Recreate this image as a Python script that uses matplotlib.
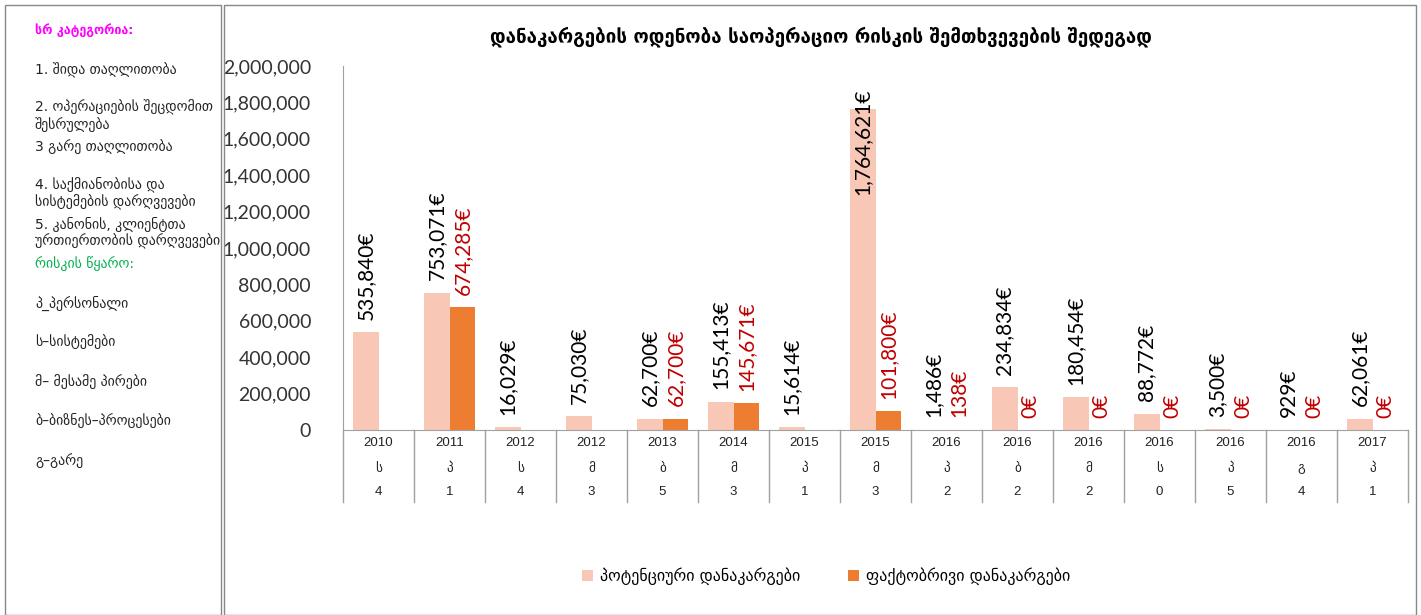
import matplotlib
matplotlib.use("Agg")
import matplotlib.pyplot as plt
from matplotlib.patches import Rectangle, Patch

# data
years = [2010, 2011, 2012, 2012, 2013, 2014, 2015, 2015, 2016, 2016, 2016, 2016, 2016, 2016, 2017]
sources = ["ს", "პ", "ს", "მ", "ბ", "მ", "პ", "მ", "პ", "ბ", "მ", "ს", "პ", "გ", "პ"]
cat_nums = [4, 1, 4, 3, 5, 3, 1, 3, 2, 2, 2, 0, 5, 4, 1]
potential = [535840, 753071, 16029, 75030, 62700, 155413, 15614, 1764621,
             1486, 234834, 180454, 88772, 3500, 929, 62061]
actual = [None, 674285, None, None, 62700, 145671, None, 101800,
          138, 0, 0, 0, 0, 0, 0]

title = "დანაკარგების ოდენობა საოპერაციო რისკის შემთხვევების შედეგად"
series_names = ["პოტენციური დანაკარგები", "ფაქტობრივი დანაკარგები"]
side_head1 = "სრ კატეგორია:"
side_cats = ["1. შიდა თაღლითობა", "2. ოპერაციების შეცდომით\nშესრულება", "3 გარე თაღლითობა",
             "4. საქმიანობისა და\nსისტემების დარღვევები", "5. კანონის, კლიენტთა\nურთიერთობის დარღვევები"]
side_head2 = "რისკის წყარო:"
side_src = ["პ_პერსონალი", "ს–სისტემები", "მ– მესამე პირები", "ბ–ბიზნეს–პროცესები", "გ–გარე"]

c_pot = "#F9C7B6"
c_act = "#ED7D31"
c_red = "#C00000"
grey = "#A0A0A0"
num_font = ["Lato", "DejaVu Sans"]
geo_font = ["DejaVu Sans"]

W, H = 1421, 615
fig = plt.figure(figsize=(W / 100, H / 100), dpi=100)

def fx(px):
    return px / W

def fy(py):
    return 1 - py / H

# frames
fig.patches.append(Rectangle((fx(5), fy(615)), fx(216), fy(5) - fy(615), transform=fig.transFigure,
                             fill=False, edgecolor="#888888", lw=1))
fig.patches.append(Rectangle((fx(224), fy(615)), fx(1192), fy(5) - fy(615), transform=fig.transFigure,
                             fill=False, edgecolor="#888888", lw=1))

ax_l, ax_r, ax_t, ax_b = 343, 1408, 66, 430
ax = fig.add_axes([fx(ax_l), fy(ax_b), fx(ax_r - ax_l), fy(ax_t) - fy(ax_b)])

n = len(years)
bw = 0.366
ymax = 2000000
xs = list(range(n))
ax.bar([x - bw / 2 for x in xs], potential, width=bw, color=c_pot)
act_x = [x + bw / 2 for x, a in zip(xs, actual) if a is not None]
act_v = [a for a in actual if a is not None]
ax.bar(act_x, act_v, width=bw, color=c_act)

def label(x, v, col):
    if v > 0.8 * ymax:
        # no room above: put it inside the top of the bar like Excel does
        ax.annotate(f"{v:,}€", (x, v), xytext=(0, 15), textcoords="offset points",
                    rotation=90, ha="center", va="top", fontsize=15, family=num_font, color=col)
    else:
        ax.annotate(f"{v:,}€", (x, v), xytext=(0, 9), textcoords="offset points",
                    rotation=90, ha="center", va="bottom", fontsize=15, family=num_font, color=col)

for x, v in zip(xs, potential):
    label(x - bw / 2, v, "black")
for x, v in zip(act_x, act_v):
    label(x, v, c_red)

ax.set_xlim(-0.5, n - 0.5)
ax.set_ylim(0, ymax)
ax.set_yticks(range(0, ymax + 1, 200000))
ax.set_yticklabels([f"{v:,}" for v in range(0, ymax + 1, 200000)], family=num_font, fontsize=14, color="#333333")
ax.tick_params(axis="y", length=0, pad=23)
ax.set_xticks([])
for s in ["top", "right"]:
    ax.spines[s].set_visible(False)
for s in ["left", "bottom"]:
    ax.spines[s].set_color(grey)

# category table under the axis
axh = ax_b - ax_t
tr = ax.get_xaxis_transform()
def yax(py):
    return -(py - ax_b) / axh

for i in range(n + 1):
    ax.plot([i - 0.5, i - 0.5], [0, yax(502)], color=grey, lw=1, transform=tr, clip_on=False)
for i in range(n):
    ax.text(i, yax(443), str(years[i]), ha="center", va="center", transform=tr,
            fontsize=9.5, family=["Liberation Sans", "DejaVu Sans"], color="#222222")
    ax.text(i, yax(468), sources[i], ha="center", va="center", transform=tr,
            fontsize=9.5, family=geo_font, color="#222222")
    ax.text(i, yax(492), str(cat_nums[i]), ha="center", va="center", transform=tr,
            fontsize=9.5, family=["Liberation Sans", "DejaVu Sans"], color="#222222")

fig.text(fx(821), fy(37), title, ha="center", va="center", fontsize=13.5, fontweight="bold",
         family=geo_font, color="black")

handles = [Patch(facecolor=c_pot), Patch(facecolor=c_act)]
fig.legend(handles, series_names, loc="center", bbox_to_anchor=(fx(826), fy(576)), ncol=2,
           frameon=False, handlelength=0.7, handleheight=0.7, handletextpad=0.4, columnspacing=3.0,
           prop={"family": geo_font, "size": 11.5})

# side panel
lx = fx(35)
fig.text(lx, fy(30), side_head1, ha="left", va="center", fontsize=9, fontweight="bold",
         family=geo_font, color="#FF00FF")
cat_y = [70, 116, 147, 193, 233]
for t, y in zip(side_cats, cat_y):
    fig.text(lx, fy(y), t, ha="left", va="center", fontsize=10, family=geo_font,
             color="#222222", linespacing=1.2)
fig.text(lx, fy(264), side_head2, ha="left", va="center", fontsize=10,
         family=geo_font, color="#00B050")
src_y = [303, 342, 382, 421, 461]
for t, y in zip(side_src, src_y):
    fig.text(lx, fy(y), t, ha="left", va="center", fontsize=10, family=geo_font, color="#222222")

fig.savefig("out.png", dpi=100)
